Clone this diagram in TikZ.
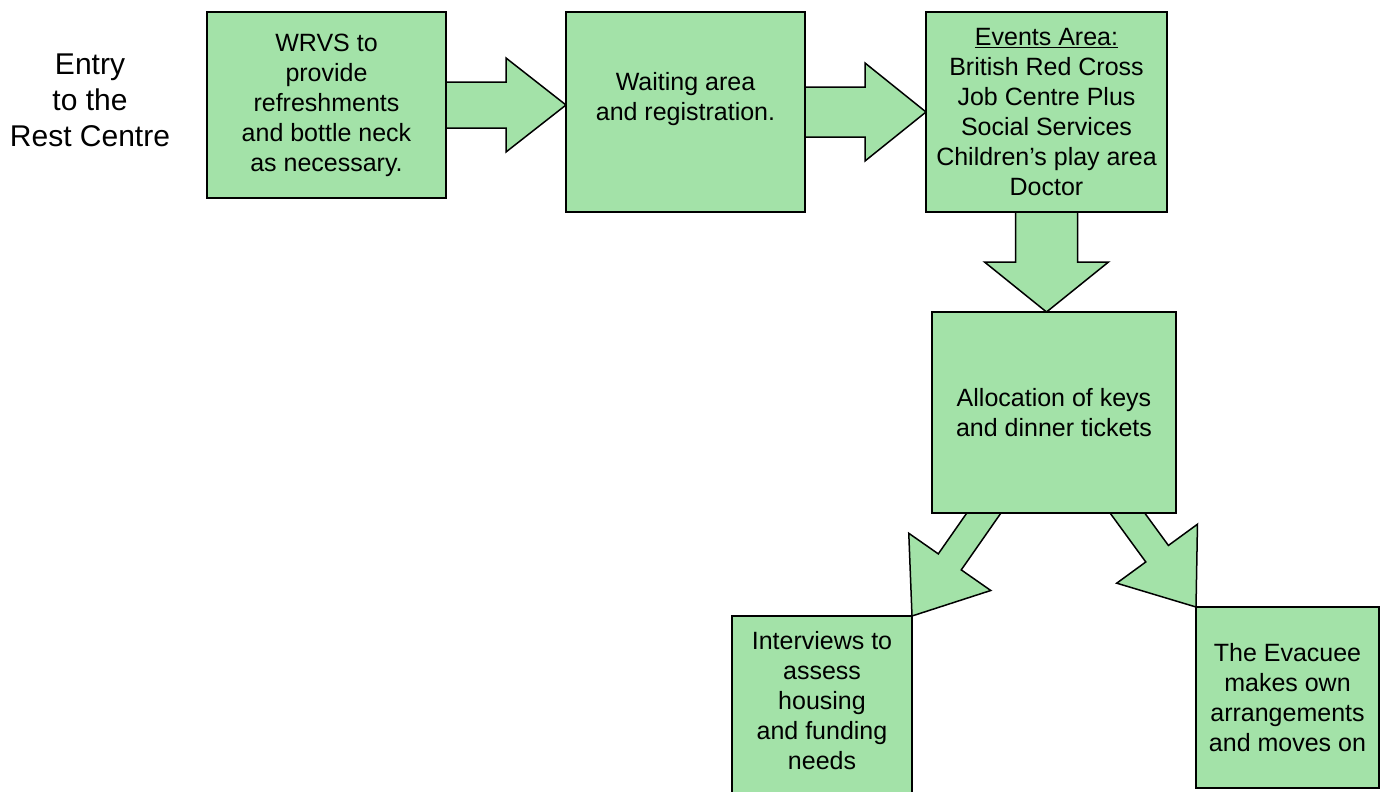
\documentclass[tikz,border=0pt]{standalone}
\usepackage{fontspec}
\setmainfont{Liberation Sans}
\usetikzlibrary{positioning, calc, backgrounds}
\definecolor{boxgreen}{RGB}{163, 226, 168}

% block arrow: from, to, shaft half width, head half width, head length
\newcommand{\blockarrow}[5]{%
  \draw[arrowbody] ($(#1)!#3!90:(#2)$) -- ($(#2)!#5!(#1)!#3!-90:(#1)$)
    -- ($(#2)!#5!(#1)!#4!-90:(#1)$) -- (#2) -- ($(#2)!#5!(#1)!#4!90:(#1)$)
    -- ($(#2)!#5!(#1)!#3!90:(#1)$) -- ($(#1)!#3!-90:(#2)$) -- cycle;}

\begin{document}
\begin{tikzpicture}[
    x=1pt, y=-1pt,
    box/.style={draw, fill=boxgreen, line width=1.5pt, align=center, inner sep=0pt, outer sep=0pt, font=\fontsize{25}{30}\selectfont},
    arrowbody/.style={draw, fill=boxgreen, line width=1.5pt, line join=miter}
]
    \useasboundingbox (0,0) rectangle (1386,792);
    \clip (0,0) rectangle (1386,792);

    \node[align=center, font=\fontsize{30}{36}\selectfont] (entry) at (90,100) {Entry\\to the\\Rest Centre};
    \node[box, minimum width=239pt, minimum height=186pt, anchor=north west] (wrvs) at (207,12)
        {WRVS to\\provide\\refreshments\\and bottle neck\\as necessary.};
    \node[box, minimum width=239pt, minimum height=200pt, text depth=32pt, right=120pt of wrvs.north east, anchor=north west] (waiting)
        {Waiting area\\and registration.};
    \node[box, minimum width=241pt, minimum height=200pt, right=121pt of waiting.north east, anchor=north west] (events)
        {\underline{Events Area:}\\British Red Cross\\Job Centre Plus\\Social Services\\Children’s play area\\Doctor};
    \node[box, minimum width=244pt, minimum height=201pt, below=100pt of events.south, xshift=7.5pt] (alloc)
        {Allocation of keys\\and dinner tickets};
    \node[box, minimum width=180pt, minimum height=180pt, text depth=12pt, below left=103pt and 142pt of alloc.south] (interview)
        {Interviews to\\assess\\housing\\and funding\\needs};
    \node[box, minimum width=183pt, minimum height=181pt, below right=94pt and 142pt of alloc.south] (evac)
        {The Evacuee\\makes own\\arrangements\\and moves on};

    \coordinate (tip1) at (waiting.west |- wrvs.east);
    \coordinate (tip3) at (events.south |- alloc.north);

    \begin{scope}[on background layer]
        \blockarrow{wrvs.east}{tip1}{23pt}{47pt}{60pt}
        \blockarrow{waiting.east}{events.west}{25pt}{49pt}{61pt}
        \blockarrow{events.south}{tip3}{31pt}{62pt}{50pt}
        \blockarrow{alloc.center}{interview.north east}{14pt}{50pt}{66pt}
        \blockarrow{alloc.center}{evac.north west}{14pt}{50pt}{66pt}
    \end{scope}
\end{tikzpicture}
\end{document}
